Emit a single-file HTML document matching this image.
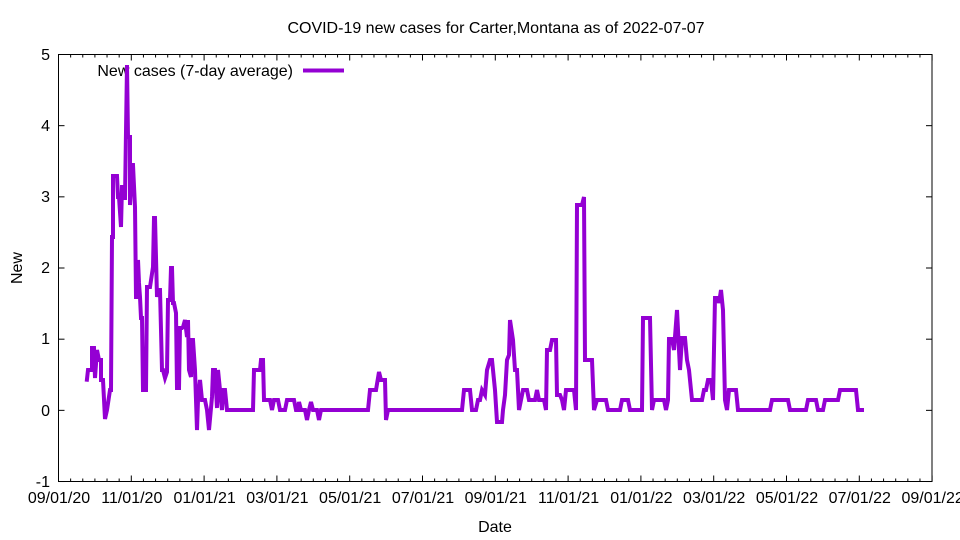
<!DOCTYPE html>
<html><head><meta charset="utf-8"><style>
html,body{margin:0;padding:0;background:#fff;}
svg{display:block;font-family:"Liberation Sans",sans-serif;}
</style></head><body>
<svg width="960" height="540" viewBox="0 0 960 540" xmlns="http://www.w3.org/2000/svg">
<rect width="960" height="540" fill="#fff"/>
<text x="496" y="33" font-size="16" text-anchor="middle">COVID-19 new cases for Carter,Montana as of 2022-07-07</text>
<g id="ticks" stroke="#000" stroke-width="1"></g>
<rect x="58.5" y="54.5" width="873.5" height="427" fill="none" stroke="#000" stroke-width="1"/>
<g font-size="16" text-anchor="end">
<text x="50" y="60">5</text><text x="50" y="131">4</text><text x="50" y="202">3</text>
<text x="50" y="273">2</text><text x="50" y="344">1</text><text x="50" y="416">0</text><text x="50" y="487">-1</text>
</g>
<g font-size="16" text-anchor="middle" id="xl"></g>
<text x="495" y="532" font-size="16" text-anchor="middle">Date</text>
<text x="22" y="268" font-size="16" text-anchor="middle" transform="rotate(-90 22 268)">New</text>
<text x="293" y="76" font-size="16" text-anchor="end">New cases (7-day average)</text>
<line x1="303" y1="70.5" x2="344" y2="70.5" stroke="#9400d3" stroke-width="4"/>
<polyline fill="none" stroke="#9400d3" stroke-width="4" stroke-linejoin="miter" points="
86.7,381.7 88,370 92,370 92,348 94,348 95,378 97,350 99,360 101,360 101,380 103,380 105,419 107,410 110,390 111,390 112,237 113,237 113,176 117,176 118,197 119,197 121,227 122,187 123,187 124,198 125,198 127,65 128,137 130,137 130,205 132,165 133,165 135,207 136,297 137,297 138,260 139,283 140,297 141,318 142,318 143,390 146,390 147,287 150,287 153,267 154,218 155,218 157,297 158,290 160,290 162,370 163,370 165,378 167,372 168,300 170,300 171,268 172,268 173,303 174,303 176,313 177,388 179,388 180,328 182,328 183,327 185,320 187,337 188,320 189,370 191,377 192,340 193,340 195,370 197,430 198,400 200,380 202,400 205,400 207,410 209,430 212,397 213,370 215,370 217,408 218,370 220,390 222,410 223,390 225,390 227,410 253,410 254,370 260,370 261,360 263,360 264,400 270,400 272,410 274,400 278,400 280,410 285,410 287,400 294,400 296,410 298,410 299,402 301,410 305,410 307,420 309,410 311,402 313,410 317,410 319,420 321,410 368,410 370,390 376,390 379,372 381,380 385,380 386,420 388,410 462,410 464,390 470,390 472,410 476,410 478,400 480,400 482,390 485,395 487,370 490,360 492,360 495,390 497,422 502,422 503,410 505,395 507,360 509,355 510,320 513,340 515,370 517,370 519,410 521,400 523,390 527,390 529,400 535,400 537,390 539,400 544,400 546,410 547,350 550,350 552,340 556,340 557,395 560,395 562,400 564,410 566,390 574,390 576,410 577,205 582,205 584,197 585,360 592,360 594,410 597,400 606,400 608,410 620,410 622,400 628,400 630,410 642,410 643,318 650,318 652,410 654,400 664,400 666,410 668,400 669,339 672,339 674,350 677,310 680,370 682,338 685,338 687,360 689,370 691,390 692,400 702,400 704,390 706,390 708,380 711,380 713,400 715,298 718,298 719,303 721,290 723,310 725,400 727,410 729,390 736,390 738,410 770,410 772,400 788,400 790,410 806,410 808,400 816,400 818,410 823,410 825,400 838,400 840,390 856,390 858,410 864,410"/>
<script>
var g=document.getElementById('ticks'),xl=document.getElementById('xl'),ns='http://www.w3.org/2000/svg';
function ln(a,b,c,d){var l=document.createElementNS(ns,'line');l.setAttribute('x1',a);l.setAttribute('y1',b);l.setAttribute('x2',c);l.setAttribute('y2',d);g.appendChild(l);}
for(var i=0;i<=72;i++){var x=58.5+i*72.8/6;var L=(i%6==0)?6:3;ln(x,481.5,x,481.5-L);ln(x,54.5,x,54.5+L);}
for(var j=0;j<=6;j++){var y=54.5+j*71.17;ln(58.5,y,64.5,y);ln(932,y,926,y);}
var labs=['09/01/20','11/01/20','01/01/21','03/01/21','05/01/21','07/01/21','09/01/21','11/01/21','01/01/22','03/01/22','05/01/22','07/01/22','09/01/22'];
for(var k=0;k<13;k++){var t=document.createElementNS(ns,'text');t.setAttribute('x',59+k*72.8);t.setAttribute('y',503);t.textContent=labs[k];xl.appendChild(t);}
</script>
</svg>
</body></html>
